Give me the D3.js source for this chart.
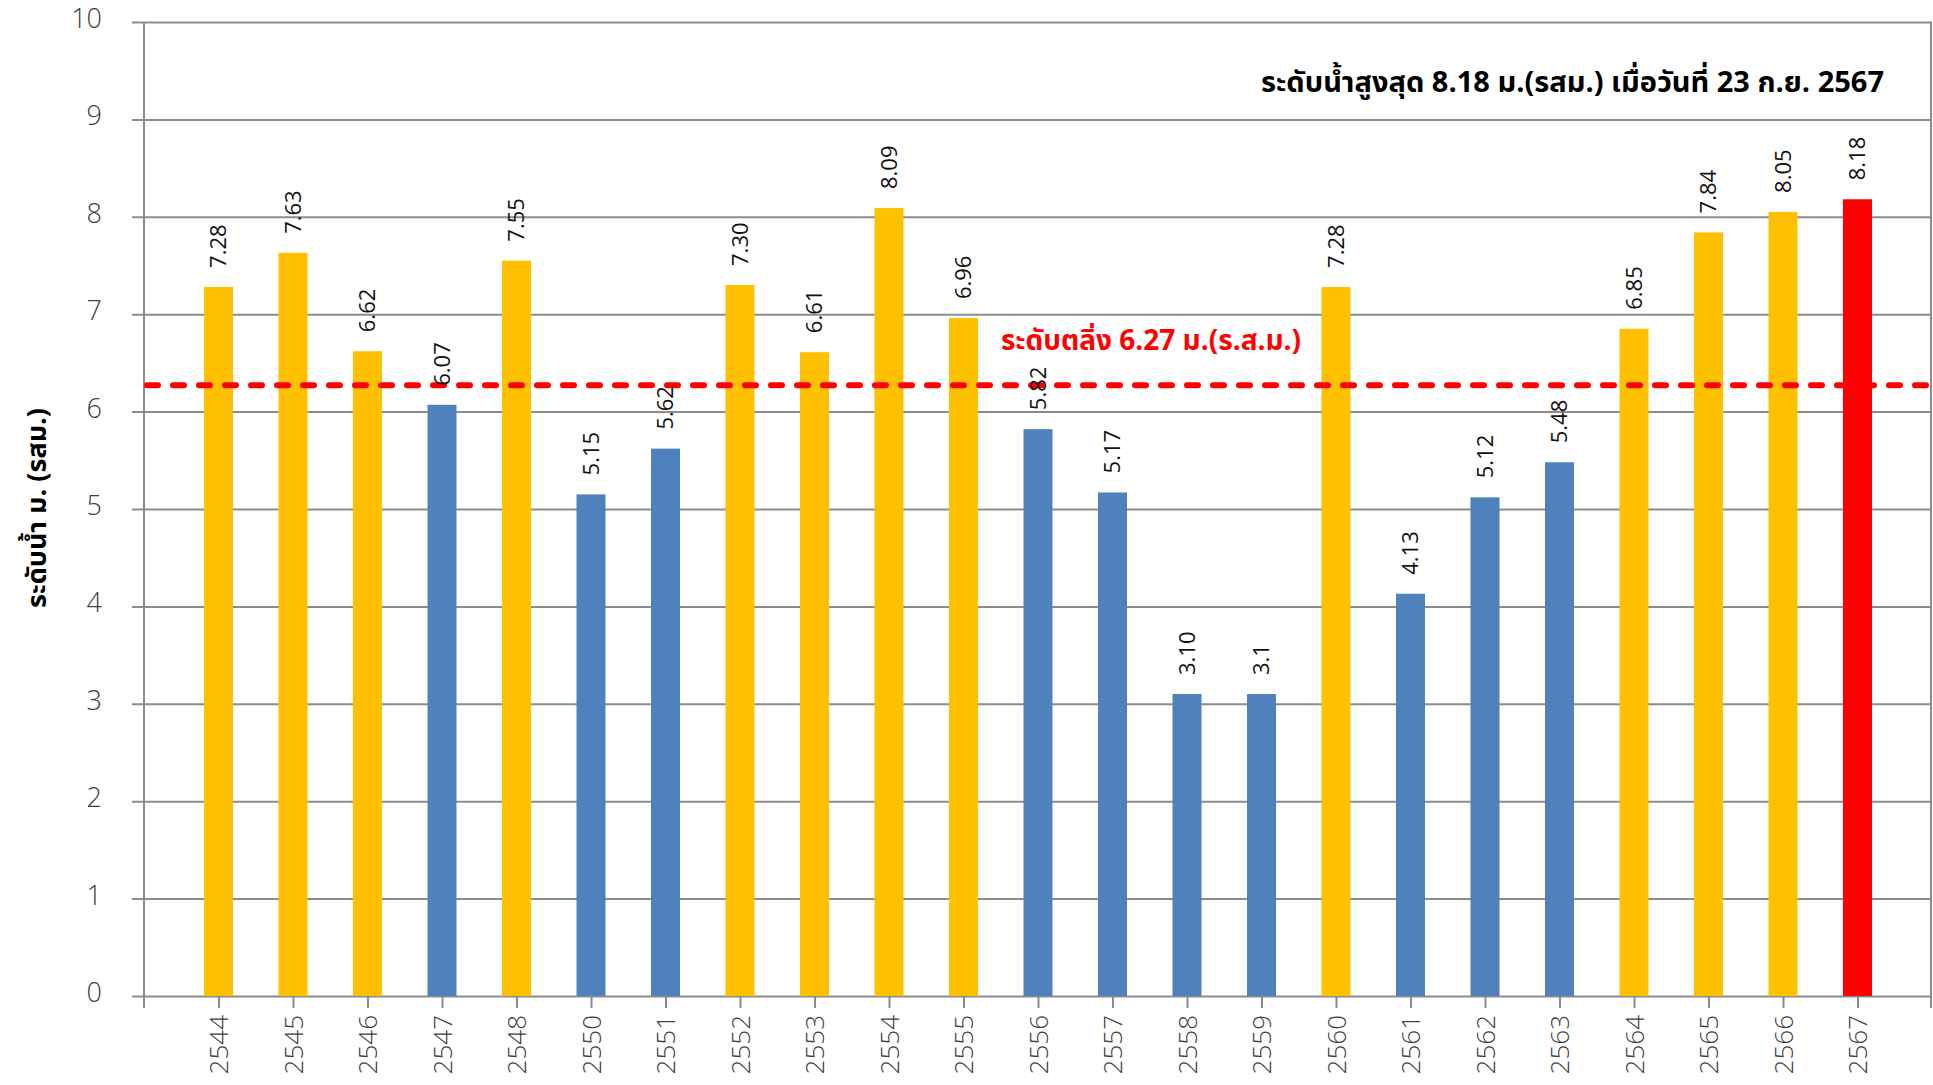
<!DOCTYPE html>
<html><head><meta charset="utf-8">
<script src="https://cdn.jsdelivr.net/npm/d3@7"></script>
<style>
html,body{margin:0;padding:0;background:#fff;}
svg{display:block;}
text{font-family:"Open Sans","Noto Sans","Noto Sans Thai","Tahoma",sans-serif;}
</style></head>
<body><svg id="c" width="1933" height="1085"></svg>
<script>
const years = ["2544","2545","2546","2547","2548","2550","2551","2552","2553","2554","2555","2556","2557","2558","2559","2560","2561","2562","2563","2564","2565","2566","2567"];
const levels = [7.28,7.63,6.62,6.07,7.55,5.15,5.62,7.30,6.61,8.09,6.96,5.82,5.17,3.10,3.1,7.28,4.13,5.12,5.48,6.85,7.84,8.05,8.18];
const valueLabels = ["7.28","7.63","6.62","6.07","7.55","5.15","5.62","7.30","6.61","8.09","6.96","5.82","5.17","3.10","3.1","7.28","4.13","5.12","5.48","6.85","7.84","8.05","8.18"];
const yTicks = [0,1,2,3,4,5,6,7,8,9,10];
const bankLevel = 6.27;
const bankLabel = "ระดับตลิ่ง 6.27 ม.(ร.ส.ม.)";
const maxLabel = "ระดับน้ำสูงสุด 8.18 ม.(รสม.) เมื่อวันที่ 23 ก.ย. 2567";
const yTitle = "ระดับน้ำ ม. (รสม.)";
const currentYear = "2567";

const svg = d3.select("#c");
const L = 144, R = 1932, T = 22, B = 996;
const x = d3.scalePoint().domain(years).range([L, R]).padding(1);
const y = d3.scaleLinear().domain([0, 10]).range([B, T]);
const grid = "#8c8c8c";

// y axis with gridlines
const ya = svg.append("g").attr("transform", `translate(${L},0)`)
  .call(d3.axisLeft(y).tickValues(yTicks).tickSize(0).tickPadding(42).tickFormat(d3.format("d")));
ya.select(".domain").remove();
ya.selectAll(".tick line").attr("x1", -12).attr("x2", R - L).attr("stroke", grid).attr("stroke-width", 2);
ya.selectAll(".tick text").attr("font-size", 27).attr("fill", "#404040").attr("font-weight", 300).attr("dy", "0.2em");

// x axis
const xa = svg.append("g").attr("transform", `translate(0,${B})`)
  .call(d3.axisBottom(x).tickSize(12).tickPadding(8));
xa.select(".domain").remove();
xa.selectAll(".tick line").attr("stroke", grid).attr("stroke-width", 2);
xa.selectAll(".tick text").attr("font-size", 26).attr("fill", "#404040").attr("font-weight", 300)
  .attr("transform", "rotate(-90)").attr("text-anchor", "end").attr("x", -19).attr("y", 0).attr("dy", "0.35em");

// frame lines
svg.append("line").attr("x1", L).attr("x2", L).attr("y1", T).attr("y2", B + 12).attr("stroke", grid).attr("stroke-width", 2);
svg.append("line").attr("x1", R - 1).attr("x2", R - 1).attr("y1", T).attr("y2", B + 12).attr("stroke", grid).attr("stroke-width", 2);

// bars
const bw = 29;
const color = (d, i) => years[i] === currentYear ? "#FF0000" : (d >= bankLevel ? "#FFC000" : "#4F81BD");
svg.append("g").selectAll("rect").data(levels).join("rect")
  .attr("x", (d, i) => x(years[i]) - bw / 2)
  .attr("y", d => y(d))
  .attr("width", bw)
  .attr("height", d => B - y(d))
  .attr("fill", color);

// dashed bank line
svg.append("line").attr("x1", L + 3).attr("x2", R).attr("y1", y(bankLevel)).attr("y2", y(bankLevel))
  .attr("stroke", "#FF0000").attr("stroke-width", 6).attr("stroke-linecap", "round").attr("stroke-dasharray", "11,15");

// value labels
svg.append("g").selectAll("text").data(levels).join("text")
  .attr("transform", (d, i) => `translate(${x(years[i])},${y(d) - 19}) rotate(-90)`)
  .attr("dy", "0.35em")
  .attr("font-size", 22).attr("fill", "#111")
  .text((d, i) => valueLabels[i]);

// annotations
svg.append("text").attr("x", 1151).attr("y", 350).attr("text-anchor", "middle")
  .attr("font-size", 28).attr("font-weight", "bold").attr("fill", "#FF0000").text(bankLabel);
svg.append("text").attr("x", 1884).attr("y", 92).attr("text-anchor", "end")
  .attr("font-size", 29).attr("font-weight", "bold").attr("fill", "#000").text(maxLabel);
svg.append("text").attr("transform", "translate(37,508) rotate(-90)").attr("text-anchor", "middle")
  .attr("dy", "0.35em").attr("font-size", 27).attr("font-weight", "bold").attr("fill", "#000").text(yTitle);
</script></body></html>
